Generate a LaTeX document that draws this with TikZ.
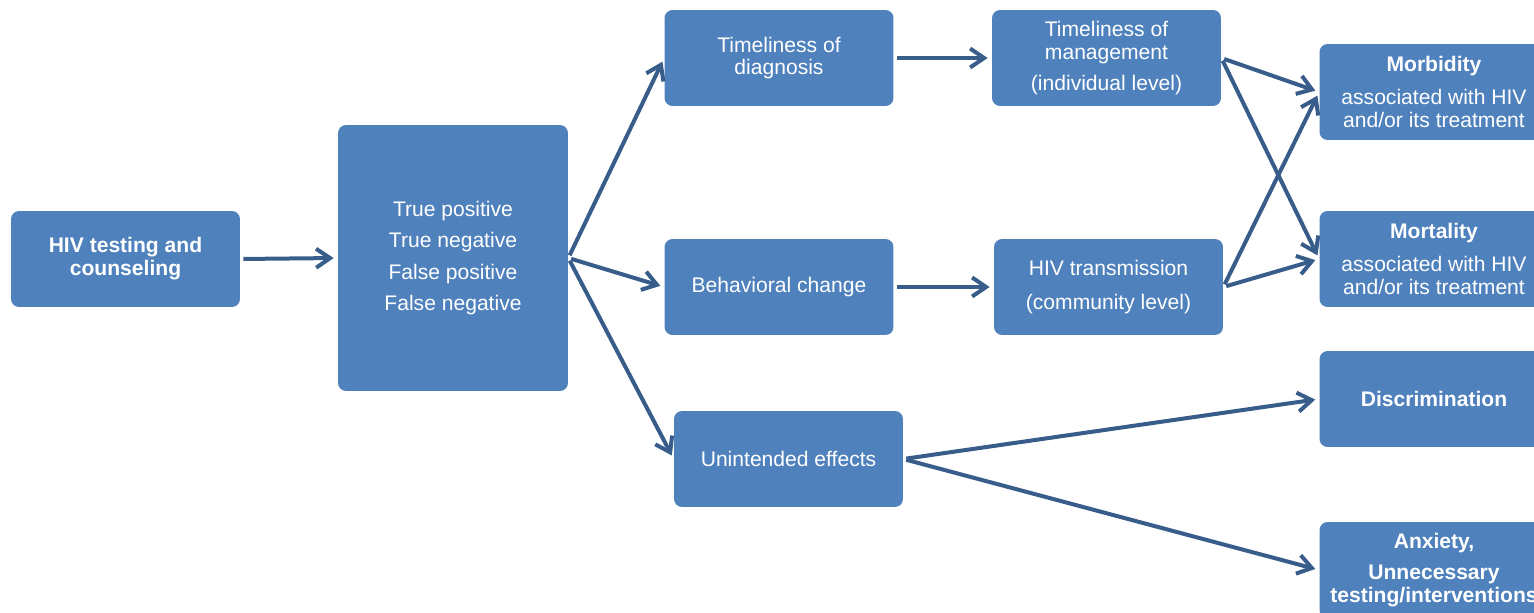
\documentclass[tikz,border=0pt]{standalone}
\usepackage{fontspec}
\setmainfont{Liberation Sans}
\usetikzlibrary{arrows.meta}
\definecolor{boxblue}{RGB}{79,129,189}
\definecolor{arrowblue}{RGB}{56,93,138}
\begin{document}
\begin{tikzpicture}
[x=0.02cm,y=-0.02cm,
 boxdecorate/.style={shape=rectangle,fill=boxblue,rounded corners=0.16cm,text=white,align=center,inner sep=0pt,%
  minimum width=4.58cm,minimum height=1.92cm,font=\fontsize{12}{13}\selectfont},%
 linedecorate/.style={-{Straight Barb[length=0.28cm,width=0.38cm]},line width=0.08cm,draw=arrowblue,%
  shorten <=0.06cm,shorten >=0.08cm}]
\useasboundingbox (0,0) rectangle (1534,612);
\clip (0,0) rectangle (1534,612);
%% nodes or boxes
\node (testing) at (125.5,259) [boxdecorate] {\textbf{HIV testing and}\\\textbf{counseling}};
\node (accuracy) at (453,258) [boxdecorate,minimum width=4.6cm,minimum height=5.32cm]
  {True positive\\[5pt]True negative\\[5pt]False positive\\[5pt]False negative};
\node (diagnosis) at (779,58) [boxdecorate] {Timeliness of\\diagnosis};
\node (behaviour) at (779,287) [boxdecorate] {Behavioral change};
\node (unintended) at (788.5,459) [boxdecorate] {Unintended effects};
\node (management) at (1106.5,58) [boxdecorate] {Timeliness of\\management\\[5pt](individual level)};
\node (transmission) at (1108.5,287) [boxdecorate] {HIV transmission\\[6pt](community level)};
\node (morbidity) at (1434,92) [boxdecorate]
  {\textbf{Morbidity}\\[6pt]associated with HIV\\and/or its treatment};
\node (mortality) at (1434,259) [boxdecorate]
  {\textbf{Mortality}\\[6pt]associated with HIV\\and/or its treatment};
\node (discrimination) at (1434,399) [boxdecorate] {\textbf{Discrimination}};
\node (anxiety) at (1434,570) [boxdecorate]
  {\textbf{Anxiety,}\\[5pt]\textbf{Unnecessary}\\\textbf{testing/interventions}};
%% edges or arrows
\path
(testing.east) edge[linedecorate] (accuracy.west)
(accuracy.east) edge[linedecorate] (diagnosis.west)
(accuracy.east) edge[linedecorate] (behaviour.west)
(accuracy.east) edge[linedecorate] (unintended.west)
(diagnosis.east) edge[linedecorate] (management.west)
(behaviour.east) edge[linedecorate] (transmission.west)
(management.east) edge[linedecorate] (morbidity.west)
(management.east) edge[linedecorate] (mortality.west)
(transmission.east) edge[linedecorate] (morbidity.west)
(transmission.east) edge[linedecorate] (mortality.west)
(unintended.east) edge[linedecorate] (discrimination.west)
(unintended.east) edge[linedecorate] (anxiety.west);
\end{tikzpicture}
\end{document}
